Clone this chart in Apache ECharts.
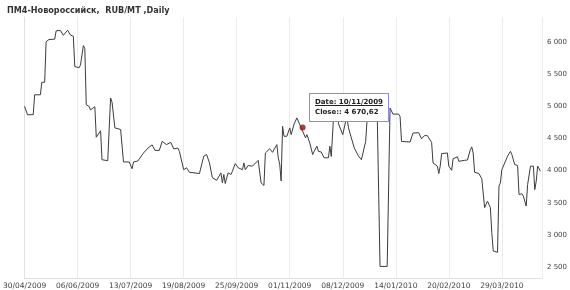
<!DOCTYPE html>
<html><head><meta charset="utf-8">
<script src="https://cdn.jsdelivr.net/npm/echarts@6/dist/echarts.min.js"></script>
<style>html,body{margin:0;padding:0;background:#fff}#c{width:570px;height:290px}</style>
</head><body><div id="c"></div>
<script>
const chartTitle = 'ПМ4-Новороссийск,  RUB/MT ,Daily';
const startDate = '30/04/2009';
const endDate = '26/04/2010';
const tickStepDays = 37;
const yMin = 2330, yMax = 6390;
const yTickValues = [2500, 3000, 3500, 4000, 4500, 5000, 5500, 6000];
const tipDate = '10/11/2009';
const tipClose = 4670.62;

const dates = [
'30/04/2009','02/05/2009','06/05/2009','07/05/2009','11/05/2009','12/05/2009','14/05/2009','15/05/2009','17/05/2009','21/05/2009',
'22/05/2009','25/05/2009','27/05/2009','30/05/2009','01/06/2009','03/06/2009','04/06/2009','07/06/2009','08/06/2009','10/06/2009',
'11/06/2009','12/06/2009','14/06/2009','15/06/2009','18/06/2009','19/06/2009','20/06/2009','22/06/2009','23/06/2009','27/06/2009',
'29/06/2009','30/06/2009','02/07/2009','06/07/2009','07/07/2009','08/07/2009','12/07/2009','14/07/2009','15/07/2009','18/07/2009',
'22/07/2009','25/07/2009','28/07/2009','30/07/2009','02/08/2009','04/08/2009','07/08/2009','10/08/2009','12/08/2009','15/08/2009',
'16/08/2009','19/08/2009','21/08/2009','23/08/2009','30/08/2009','02/09/2009','04/09/2009','06/09/2009','08/09/2009','11/09/2009',
'14/09/2009','15/09/2009','16/09/2009','17/09/2009','19/09/2009','21/09/2009','22/09/2009','24/09/2009','26/09/2009','27/09/2009',
'29/09/2009','30/09/2009','01/10/2009','03/10/2009','06/10/2009','10/10/2009','12/10/2009','14/10/2009','15/10/2009','18/10/2009',
'20/10/2009','23/10/2009','24/10/2009','25/10/2009','26/10/2009','27/10/2009','28/10/2009','30/10/2009','01/11/2009','02/11/2009',
'04/11/2009','06/11/2009','07/11/2009','09/11/2009','10/11/2009','12/11/2009','13/11/2009','15/11/2009','17/11/2009','18/11/2009',
'20/11/2009','21/11/2009','23/11/2009','25/11/2009','28/11/2009','29/11/2009','30/11/2009','02/12/2009','04/12/2009','05/12/2009',
'06/12/2009','08/12/2009','09/12/2009','10/12/2009','11/12/2009','12/12/2009','14/12/2009','16/12/2009','19/12/2009','21/12/2009',
'22/12/2009','24/12/2009','25/12/2009','27/12/2009','30/12/2009','01/01/2010','03/01/2010','08/01/2010','10/01/2010','11/01/2010',
'12/01/2010','16/01/2010','17/01/2010','18/01/2010','19/01/2010','24/01/2010','26/01/2010','30/01/2010','01/02/2010','03/02/2010',
'05/02/2010','08/02/2010','09/02/2010','12/02/2010','13/02/2010','14/02/2010','15/02/2010','19/02/2010','20/02/2010','22/02/2010',
'23/02/2010','26/02/2010','27/02/2010','03/03/2010','05/03/2010','07/03/2010','08/03/2010','09/03/2010','10/03/2010','13/03/2010',
'15/03/2010','16/03/2010','17/03/2010','18/03/2010','19/03/2010','21/03/2010','22/03/2010','23/03/2010','26/03/2010','27/03/2010',
'28/03/2010','29/03/2010','31/03/2010','01/04/2010','02/04/2010','04/04/2010','05/04/2010','07/04/2010','09/04/2010','10/04/2010',
'12/04/2010','13/04/2010','15/04/2010','16/04/2010','17/04/2010','18/04/2010','20/04/2010','21/04/2010','22/04/2010','23/04/2010',
'24/04/2010','25/04/2010'
];
const closes = [
5000,4870,4870,5180,5180,5375,5375,6005,6040,6045,
6175,6180,6105,6185,6110,6090,5620,5600,5645,5945,
5900,5025,5000,4945,4995,4520,4520,4620,4170,4155,
5130,5065,4665,4640,4660,4135,4135,4030,4135,4150,
4275,4350,4400,4315,4315,4455,4405,4440,4340,4350,
4300,4015,4045,3975,3955,4225,4250,4120,3890,3850,
3965,3810,3940,3800,3965,3940,3990,4110,4045,4060,
4015,4120,4015,4080,4070,4160,3810,3770,4275,4340,
4285,4405,4200,4100,3840,4690,4535,4535,4665,4560,
4725,4820,4800,4665,4670.62,4510,4560,4430,4250,4300,
4380,4300,4290,4200,4200,4380,4220,5000,5020,4730,
4740,4560,4530,4765,4820,4665,4510,4355,4225,4170,
4195,4455,4800,4950,4980,4950,2510,2510,4975,4945,
4880,4880,4840,4455,4430,4445,4585,4590,4495,4545,
4545,4440,4120,4070,3955,4070,4265,4275,4070,4005,
4185,4215,4145,4160,4165,4325,4370,4275,3975,3955,
3875,3870,3425,3425,3525,3425,3035,2750,2730,3760,
3810,4015,4120,4125,4225,4300,4250,4095,4080,3630,
3640,3605,3450,3785,3800,4070,4070,3705,3835,4070,
4060,3990
];

function utcOf(s){const p=s.split('/').map(Number);return Date.UTC(p[2],p[1]-1,p[0]);}
const base = utcOf(startDate);
const DAY = 86400000;
function dayIdx(s){return Math.round((utcOf(s)-base)/DAY);}
function fmtDate(d){const t=new Date(base+d*DAY);const dd=String(t.getUTCDate()).padStart(2,'0');const mm=String(t.getUTCMonth()+1).padStart(2,'0');return dd+'/'+mm+'/'+t.getUTCFullYear();}
function groupInt(v){return String(v).replace(/\B(?=(\d{3})+(?!\d))/g,' ');}
function fmtClose(v){const parts=v.toFixed(2).split('.');return groupInt(parts[0])+','+parts[1];}

const lineData = dates.map((d,i)=>[dayIdx(d), closes[i]]);
const tipData = [[dayIdx(tipDate), tipClose]];

const chart = echarts.init(document.getElementById('c'), null, {renderer:'canvas'});
chart.setOption({
  animation:false,
  title:{text:chartTitle,left:2,top:1,textStyle:{fontFamily:'DejaVu Sans Condensed',fontWeight:'bold',fontSize:9,color:'#333'}},
  grid:{left:23,right:28,top:17,bottom:11,containLabel:false},
  tooltip:{
    trigger:'item',triggerOn:'none',alwaysShowContent:true,transitionDuration:0,
    backgroundColor:'#fff',borderColor:'#8a8adf',borderWidth:1,padding:[3,5,4,5],
    textStyle:{fontFamily:'DejaVu Sans',fontSize:7,fontWeight:'bold',color:'#222'},
    extraCssText:'box-shadow:none;border-radius:0;line-height:10px;',
    position:function(pt){return [pt[0]+6, pt[1]-35];},
    formatter:function(p){return '<u>Date: '+fmtDate(p.value[0])+'</u><br>Close:: '+fmtClose(p.value[1]);}
  },
  xAxis:{type:'value',min:0,max:dayIdx(endDate),interval:tickStepDays,
    axisLine:{show:true,lineStyle:{color:'#e0e0e0'}},axisTick:{show:false},
    splitLine:{show:true,lineStyle:{color:'#ececec'}},
    axisLabel:{showMaxLabel:false,showMinLabel:true,margin:4,fontFamily:'DejaVu Sans',fontSize:7.5,color:'#444',formatter:fmtDate}},
  yAxis:{type:'value',position:'right',min:yMin,max:yMax,scale:true,
    axisLine:{show:true,lineStyle:{color:'#e0e0e0'}},axisTick:{show:false},splitLine:{show:false},
    axisLabel:{customValues:yTickValues,margin:5,fontFamily:'DejaVu Sans',fontSize:7,color:'#444',formatter:groupInt}},
  series:[
    {type:'line',data:lineData,showSymbol:false,symbol:'none',lineStyle:{color:'#3c3c3c',width:1},silent:true,tooltip:{show:false}},
    {type:'scatter',data:tipData,symbol:'circle',symbolSize:6,itemStyle:{color:'#9b0a0a'},z:5}
  ]
});
chart.dispatchAction({type:'showTip',seriesIndex:1,dataIndex:0});
</script></body></html>
